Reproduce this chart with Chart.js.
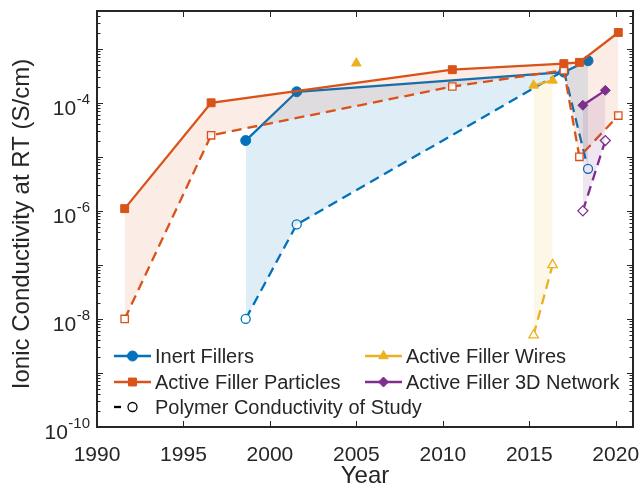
<!DOCTYPE html>
<html>
<head>
<meta charset="utf-8">
<script src="https://cdn.jsdelivr.net/npm/chart.js@4/dist/chart.umd.min.js"></script>
<style>
html, body { margin: 0; padding: 0; background: #fff; }
#wrap { width: 641px; height: 486px; position: relative; }
</style>
</head>
<body>
<div id="wrap"><canvas id="mycanvas"></canvas></div>
<script>
// axis ticks
var xTicks = [1990, 1995, 2000, 2005, 2010, 2015, 2020];
var yTickExp = [-10, -8, -6, -4];

// Inert fillers
var inertYears = [1998.6, 2001.55, 2017.0, 2018.4];
var inertFiller = [2.0e-5, 1.6e-4, 3.7e-4, 6.0e-4];
var inertPolymer = [1.0e-8, 5.6e-7, 3.9e-4, 6.0e-6];

// Active filler particles
var particleYears = [1991.6, 1996.6, 2010.55, 2017.0, 2017.9, 2020.15];
var particleFiller = [1.1e-6, 1.0e-4, 4.1e-4, 5.3e-4, 5.6e-4, 2.0e-3];
var particlePolymer = [1.0e-8, 2.5e-5, 2.0e-4, 4.0e-4, 1.0e-5, 5.8e-5];

// Active filler wires
var wireYears = [2015.25, 2016.35];
var wireFiller = [2.1e-4, 2.6e-4];
var wirePolymer = [5.0e-9, 1.0e-7];
var wireSoloYear = [2005.0];
var wireSoloFiller = [5.4e-4];

// Active filler 3D network
var networkYears = [2018.1, 2019.4];
var networkFiller = [9.0e-5, 1.7e-4];
var networkPolymer = [1.0e-6, 2.0e-5];

var blue = '#0072BD', orange = '#D95319', yellow = '#EDB120', purple = '#7E2F8E';
var axisColor = '#262626';
var fontName = '"Liberation Sans", Arial, Helvetica, sans-serif';

function pts(xs, ys) {
	var out = [];
	for (var i in xs) {
		out.push({x: xs[i], y: ys[i]});
	}
	return out;
}

function filler(label, xs, ys, color, fillColor, style, radius, order) {
	return {
		label: label,
		data: pts(xs, ys),
		borderColor: color,
		borderWidth: 2.3,
		backgroundColor: fillColor,
		fill: '+1',
		pointStyle: style,
		pointRadius: radius,
		pointBackgroundColor: color,
		pointBorderColor: color,
		pointBorderWidth: 1,
		order: order
	};
}

function polymer(label, xs, ys, color, style, radius, order) {
	return {
		label: label,
		data: pts(xs, ys),
		borderColor: color,
		borderWidth: 2.3,
		borderDash: [10, 6],
		fill: false,
		pointStyle: style,
		pointRadius: radius,
		pointBackgroundColor: '#fff',
		pointBorderColor: color,
		pointBorderWidth: 1.3,
		order: order
	};
}

var chartdata = {
	datasets: [
		filler('Inert Fillers', inertYears, inertFiller, blue, 'rgba(0,114,189,0.13)', 'circle', 5, 4),
		polymer('Inert polymer', inertYears, inertPolymer, blue, 'circle', 4.5, 4),
		filler('Active Filler Particles', particleYears, particleFiller, orange, 'rgba(217,83,25,0.11)', 'rect', 5.6, 3),
		polymer('Particles polymer', particleYears, particlePolymer, orange, 'rect', 5.2, 3),
		filler('Active Filler Wires', wireYears, wireFiller, yellow, 'rgba(237,177,32,0.10)', 'triangle', 5.5, 2),
		polymer('Wires polymer', wireYears, wirePolymer, yellow, 'triangle', 5.5, 2),
		filler('Active Filler 3D Network', networkYears, networkFiller, purple, 'rgba(126,47,142,0.12)', 'rectRot', 5, 1),
		polymer('Network polymer', networkYears, networkPolymer, purple, 'rectRot', 5, 1),
		{
			label: 'Wires single',
			data: pts(wireSoloYear, wireSoloFiller),
			showLine: false,
			pointStyle: 'triangle',
			pointRadius: 5.5,
			pointBackgroundColor: yellow,
			pointBorderColor: yellow,
			order: 2
		}
	]
};

function marker(ctx, style, x, y, r, color, open) {
	ctx.beginPath();
	if (style == 'circle') {
		ctx.arc(x, y, r, 0, Math.PI * 2);
	} else if (style == 'rect') {
		var s = r * Math.SQRT1_2;
		ctx.rect(x - s, y - s, 2 * s, 2 * s);
	} else if (style == 'triangle') {
		ctx.moveTo(x, y - r);
		ctx.lineTo(x + r * 0.866, y + r / 2);
		ctx.lineTo(x - r * 0.866, y + r / 2);
		ctx.closePath();
	} else {
		ctx.moveTo(x - r, y); ctx.lineTo(x, y - r); ctx.lineTo(x + r, y); ctx.lineTo(x, y + r);
		ctx.closePath();
	}
	ctx.fillStyle = open ? '#fff' : color;
	ctx.strokeStyle = color;
	ctx.lineWidth = open ? 1.3 : 1;
	ctx.fill();
	ctx.stroke();
}

var legendItems = [
	{text: 'Inert Fillers', color: blue, style: 'circle', r: 5, x: 114, y: 356},
	{text: 'Active Filler Particles', color: orange, style: 'rect', r: 5.6, x: 114, y: 382},
	{text: 'Active Filler Wires', color: yellow, style: 'triangle', r: 5.5, x: 365, y: 356},
	{text: 'Active Filler 3D Network', color: purple, style: 'rectRot', r: 5, x: 365, y: 382}
];

var axisDecor = {
	id: 'axisDecor',
	afterDraw: function(chart) {
		var ctx = chart.ctx, a = chart.chartArea;
		var xs = chart.scales.x, ys = chart.scales.y;
		ctx.save();
		ctx.strokeStyle = axisColor;
		ctx.lineWidth = 1;
		ctx.beginPath();
		// x ticks, bottom and top, pointing in
		for (var i in xTicks) {
			var px = Math.round(xs.getPixelForValue(xTicks[i])) + 0.5;
			ctx.moveTo(px, a.bottom); ctx.lineTo(px, a.bottom - 6);
			ctx.moveTo(px, a.top); ctx.lineTo(px, a.top + 6);
		}
		// y ticks, every decade plus minor ones
		for (var e = -10; e <= -3; e++) {
			for (var m = 1; m <= 9; m++) {
				var v = m * Math.pow(10, e);
				if (v > ys.max) break;
				var py = Math.round(ys.getPixelForValue(v)) + 0.5;
				var len = m == 1 ? 6 : 3.5;
				ctx.moveTo(a.left, py); ctx.lineTo(a.left + len, py);
				ctx.moveTo(a.right, py); ctx.lineTo(a.right - len, py);
			}
		}
		ctx.stroke();
		ctx.lineWidth = 2;
		ctx.strokeRect(a.left, a.top, a.right - a.left, a.bottom - a.top);

		// tick labels
		ctx.fillStyle = axisColor;
		ctx.font = '21px ' + fontName;
		ctx.textAlign = 'center';
		ctx.textBaseline = 'alphabetic';
		for (var i in xTicks) {
			ctx.fillText(String(xTicks[i]), xs.getPixelForValue(xTicks[i]), 461);
		}
		ctx.textAlign = 'right';
		for (var j in yTickExp) {
			var ty = ys.getPixelForValue(Math.pow(10, yTickExp[j]));
			ctx.font = '15px ' + fontName;
			var sup = String(yTickExp[j]);
			var w = ctx.measureText(sup).width;
			ctx.fillText(sup, 90, ty + 1);
			ctx.font = '21px ' + fontName;
			ctx.fillText('10', 90 - w - 0.5, ty + 12);
		}

		// axis titles
		ctx.font = '24px ' + fontName;
		ctx.textAlign = 'center';
		ctx.textBaseline = 'middle';
		ctx.fillText('Year', (a.left + a.right) / 2, 476);
		ctx.save();
		ctx.translate(22, 224);
		ctx.rotate(-Math.PI / 2);
		ctx.fillText('Ionic Conductivity at RT (S/cm)', 0, 0);
		ctx.restore();

		// legend
		ctx.font = '20px ' + fontName;
		ctx.textAlign = 'left';
		for (var k in legendItems) {
			var it = legendItems[k];
			ctx.strokeStyle = it.color;
			ctx.lineWidth = 2.3;
			ctx.beginPath();
			ctx.moveTo(it.x, it.y); ctx.lineTo(it.x + 37, it.y);
			ctx.stroke();
			marker(ctx, it.style, it.x + 18.5, it.y, it.r, it.color, false);
			ctx.fillStyle = axisColor;
			ctx.fillText(it.text, it.x + 41, it.y + 1);
		}
		ctx.strokeStyle = '#000';
		ctx.lineWidth = 2.3;
		ctx.beginPath();
		ctx.moveTo(114, 407); ctx.lineTo(121, 407);
		ctx.stroke();
		marker(ctx, 'circle', 132.5, 407, 4.5, '#000', true);
		ctx.fillStyle = axisColor;
		ctx.fillText('Polymer Conductivity of Study', 155, 408);
		ctx.restore();
	}
};

var ctx = document.getElementById('mycanvas');

var LineGraph = new Chart(ctx, {
	type: 'line',
	data: chartdata,
	options: {
		responsive: true,
		maintainAspectRatio: false,
		animation: false,
		layout: { padding: { left: 97, right: 8, top: 11, bottom: 59 } },
		elements: { line: { tension: 0 } },
		plugins: {
			legend: { display: false },
			tooltip: { enabled: false }
		},
		scales: {
			x: { type: 'linear', min: 1990, max: 2021, display: false },
			y: { type: 'logarithmic', min: 1e-10, max: 5e-3, display: false }
		}
	},
	plugins: [axisDecor]
});
</script>
</body>
</html>
